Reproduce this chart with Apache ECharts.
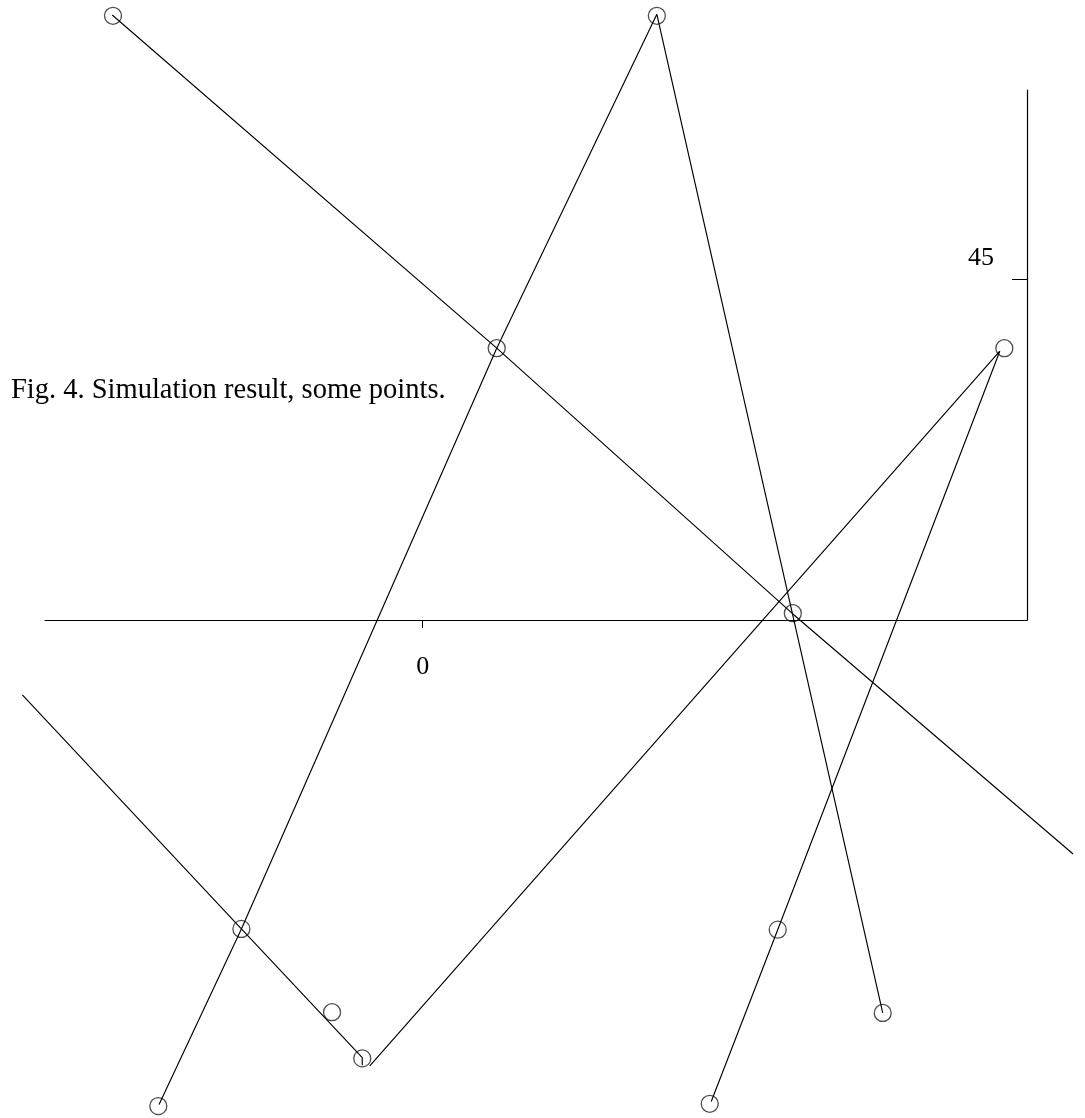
<!DOCTYPE html>
<html>
<head>
<meta charset="utf-8">
<title>Fig. 4</title>
<script src="https://cdn.jsdelivr.net/npm/echarts@6.0.0/dist/echarts.min.js"></script>
<style>
    html, body { margin: 0; padding: 0; background: #fff; }
    #chart { width: 1085px; height: 1118px; }
</style>
</head>
<body>
<div id="chart"></div>
<script>
    // paths of the simulation, [x, y] in axis units
    const pathA = [[-41.1, 79.9], [9.8, 35.9], [49.0, 0.8], [86.1, -30.9]]
    const pathB = [[-34.9, -64.0], [-24.0, -40.8], [9.8, 35.9], [31.0, 80.0], [60.9, -51.9]]
    const pathC = [[-53.0, -9.9], [-24.0, -40.8], [-8.0, -57.8], [-8.0, -58.8]]
    const pathD = [[-7.0, -58.9], [76.4, 35.5], [47.0, -40.9], [38.2, -63.6]]

    // sampled points (circles)
    const pointsX = [-41.0, 9.8, 49.0, -35.0, -24.0, 31.0, 60.9, -12.0, -8.0, 77.0, 47.0, 38.0]
    const pointsY = [79.8, 35.9, 0.9, -64.2, -40.8, 79.8, -51.9, -51.8, -57.9, 35.9, -40.9, -63.9]

    // axis ranges and the only labelled ticks
    const xRange = [-50, 80]
    const yRange = [0, 70]
    const xTicks = [0]
    const yTicks = [45]

    const titleText = 'Fig. 4. Simulation result, some points.'
    const font = '"Liberation Serif", "DejaVu Serif", serif'

    // visible axes box, the marks use a full-page grid with the same scale
    const W = 1085
    const H = 1118
    const box = { left: 45, right: 58, top: 90, bottom: 498 }
    const kx = (W - box.left - box.right) / (xRange[1] - xRange[0])
    const ky = (H - box.top - box.bottom) / (yRange[1] - yRange[0])
    const fullX = [xRange[0] - box.left / kx, xRange[1] + box.right / kx]
    const fullY = [yRange[0] - box.bottom / ky, yRange[1] + box.top / ky]

    const chart = echarts.init(document.getElementById('chart'))

    const pathSeries = [pathA, pathB, pathC, pathD].map((path, i) => ({
        name: 'path' + (i + 1),
        type: 'line',
        xAxisIndex: 1,
        yAxisIndex: 1,
        data: path,
        showSymbol: false,
        clip: false,
        silent: true,
        lineStyle: { color: '#000', width: 1.15 }
    }))

    const hiddenAxis = (range) => ({
        type: 'value',
        gridIndex: 1,
        min: range[0],
        max: range[1],
        show: false,
        splitLine: { show: false }
    })

    chart.setOption({
        animation: false,
        backgroundColor: '#fff',
        title: {
            text: titleText,
            left: 6,
            top: 371,
            textStyle: {
                fontFamily: font,
                fontSize: 28.5,
                fontWeight: 'normal',
                color: '#000'
            }
        },
        grid: [
            box,
            { left: 0, right: 0, top: 0, bottom: 0 }
        ],
        xAxis: [{
            type: 'value',
            gridIndex: 0,
            min: xRange[0],
            max: xRange[1],
            position: 'bottom',
            axisLine: { onZero: false, lineStyle: { color: '#000', width: 1.2 } },
            axisTick: { customValues: xTicks, length: 8, lineStyle: { color: '#000' } },
            axisLabel: {
                customValues: xTicks,
                margin: 34,
                fontFamily: font,
                fontSize: 26,
                color: '#000'
            },
            splitLine: { show: false }
        }, hiddenAxis(fullX)],
        yAxis: [{
            type: 'value',
            gridIndex: 0,
            min: yRange[0],
            max: yRange[1],
            position: 'right',
            axisLine: { show: true, onZero: false, lineStyle: { color: '#000', width: 1.2 } },
            axisTick: { show: true, inside: true, customValues: yTicks, length: 15, lineStyle: { color: '#000' } },
            axisLabel: {
                show: true,
                inside: true,
                customValues: yTicks,
                margin: 33,
                verticalAlign: 'bottom',
                padding: [0, 0, 8, 0],
                fontFamily: font,
                fontSize: 26,
                color: '#000'
            },
            splitLine: { show: false }
        }, hiddenAxis(fullY)],
        series: pathSeries.concat([{
            name: 'points',
            type: 'scatter',
            xAxisIndex: 1,
            yAxisIndex: 1,
            data: pointsX.map((x, i) => [x, pointsY[i]]),
            symbol: 'circle',
            symbolSize: 17,
            clip: false,
            silent: true,
            itemStyle: {
                color: 'rgba(0,0,0,0)',
                borderColor: '#222',
                borderWidth: 1.3
            }
        }])
    })
</script>
</body>
</html>
